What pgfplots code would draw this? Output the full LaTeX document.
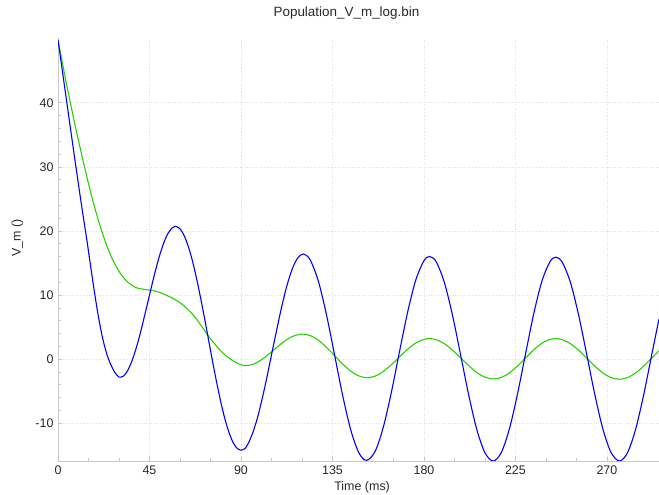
\documentclass[border=0pt]{standalone}
\usepackage{pgfplots}
\pgfplotsset{compat=1.18}
\usepackage{fontspec}
\setmainfont{Liberation Sans}
\definecolor{vblue}{RGB}{0,0,255}
\definecolor{vgreen}{RGB}{40,210,0}
\definecolor{axgray}{RGB}{200,200,200}
\definecolor{gridgray}{RGB}{225,225,225}
\definecolor{txt}{RGB}{40,40,40}
\begin{document}
\begin{tikzpicture}
\useasboundingbox (-58bp,-34bp) rectangle (601bp,461bp);
\begin{axis}[
  scale only axis,
  width=601bp, height=423bp,
  xmin=0, xmax=295.6, ymin=-15.9, ymax=50.1,
  axis x line*=bottom, axis y line*=left,
  axis line style={axgray, line width=0.6bp},
  xtick={0,45,90,135,180,225,270},
  ytick={-10,0,10,20,30,40},
  minor x tick num=2,
  minor y tick num=4,
  tick align=inside,
  major tick length=4bp, minor tick length=3bp,
  every tick/.style={axgray, line width=0.5bp},
  grid=major,
  major grid style={gridgray, dotted, line width=0.6bp},
  /pgf/number format/assume math mode=true,
  tick label style={font=\fontsize{12.5}{15}\selectfont, text=txt},
  xticklabel style={yshift=-1bp},
  yticklabel style={xshift=-1bp},
  title={Population\_V\_m\_log.bin},
  every axis title shift=0pt,
  title style={font=\fontsize{13.5}{16}\selectfont, text=txt, at={(axis description cs:0.48,1.059)}, anchor=center},
  xlabel={Time (ms)},
  xlabel style={font=\fontsize{12.5}{15}\selectfont, text=txt, at={(axis description cs:0.506,-0.0615)}, anchor=center},
  ylabel={V\_m ()},
  ylabel style={font=\fontsize{12.5}{15}\selectfont, text=txt, at={(axis description cs:-0.0674,0.527)}, anchor=center},
  clip=true,
]
\addplot[vgreen, line width=1.1bp, smooth] coordinates {
(0,49.8) (2,46.5) (4,43.2) (6,40.1) (8,37.1) (10,34.2) (12,31.4) (14,28.7) (16,26.1) (18,23.7)
(20,21.5) (22,19.5) (24,17.7) (26,16.1) (28,14.8) (30,13.7) (32,12.8) (34,12.1) (36,11.6) (38,11.2)
(40,11.0) (42,10.9) (44,10.8) (46,10.75) (48,10.6) (50,10.4) (52,10.15) (54,9.85) (56,9.55) (58,9.2)
(60,8.8) (62,8.3) (64,7.7) (66,7.05) (68,6.3) (70,5.4) (72,4.5) (74,3.6) (76,2.8) (78,2.0)
(80,1.3) (82,0.7) (84,0.2) (86,-0.25) (88,-0.6) (90,-0.9) (92,-1.04)
(96,-0.80) (100,-0.13) (104,0.85) (108,1.93) (112,2.92) (116,3.62) (120.3,3.9)
(124,3.67) (128,2.96) (132,1.86) (136,0.55) (140,-0.76) (144,-1.89) (148,-2.63) (152,-2.9)
(156,-2.65) (160,-1.93) (164,-0.87) (168,0.35) (172,1.55) (176,2.51) (180,3.08) (182.7,3.2)
(186,3.03) (190,2.41) (194,1.41) (198,0.21) (202,-1.02) (206,-2.09) (210,-2.82) (214.3,-3.1)
(218,-2.87) (222,-2.16) (226,-1.08) (230,0.19) (234,1.44) (238,2.46) (242,3.07) (244.8,3.2)
(248,3.04) (252,2.41) (256,1.40) (260,0.17) (264,-1.08) (268,-2.16) (272,-2.88) (276.1,-3.15)
(280,-2.90) (284,-2.18) (288,-1.11) (292,0.16) (295.6,1.28)
};
\addplot[vblue, line width=1.1bp, smooth] coordinates {
(0,49.8) (2,45.3) (4,40.8) (6,36.3) (8,31.8) (10,27.4) (12,23.1) (14,19.0) (16,14.6) (18,10.3)
(20,6.4) (22,3.2) (24,0.8) (26,-0.9) (28,-2.1) (30,-2.8) (32,-2.68) (34,-1.93) (36,-0.59) (38,1.24)
(40,3.45) (42,5.99) (44,8.65) (46,11.33) (48,13.89) (50,16.19) (52,18.11) (54,19.55) (56,20.42) (57.9,20.7)
(60,20.33) (62,19.3) (64,17.66) (66,15.47) (68,12.8) (70,9.76) (72,6.5) (74,3.08) (76,-0.33) (78,-3.59)
(80,-6.59) (82,-9.24) (84,-11.34) (86,-12.94) (88,-13.89) (89.9,-14.2)
(92,-13.95) (94,-12.88) (96,-11.3) (98,-9.27) (100,-6.75) (102,-3.95) (104,-0.9) (106,2.19) (108,5.2) (110,8.15) (112,10.75) (114,12.96) (116,14.67) (118,15.82) (120.7,16.4)
(124,15.51) (128,12.21) (132,7.0) (136,0.70) (140,-5.66) (144,-11.07) (148,-14.64) (151.8,-15.8)
(156,-14.38) (160,-10.62) (164,-5.13) (168,1.23) (172,7.38) (176,12.37) (180,15.36) (182.8,16.0)
(186,15.19) (190,11.99) (194,6.89) (198,0.69) (202,-5.60) (206,-11.0) (210,-14.62) (214,-15.9)
(218,-14.6) (222,-10.92) (226,-5.45) (230,0.89) (234,7.09) (238,12.15) (242,15.22) (244.9,15.9)
(248,15.13) (252,12.0) (256,6.96) (260,0.81) (264,-5.48) (268,-10.92) (272,-14.56) (276.1,-15.9)
(280,-14.68) (284,-11.07) (288,-5.67) (292,0.64) (295.6,6.27)
};
\end{axis}
\end{tikzpicture}
\end{document}
